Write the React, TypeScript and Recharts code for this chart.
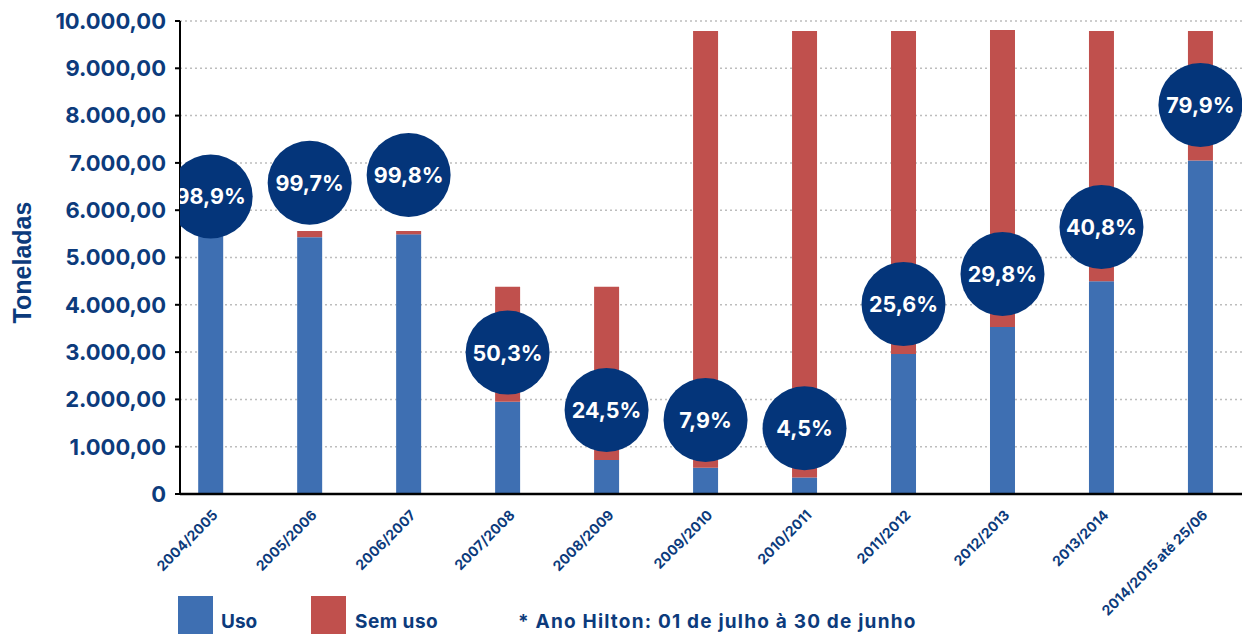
import React from 'react';
import { ComposedChart, Bar, Scatter, XAxis, YAxis, CartesianGrid } from 'recharts';

const categories = [
  '2004/2005',
  '2005/2006',
  '2006/2007',
  '2007/2008',
  '2008/2009',
  '2009/2010',
  '2010/2011',
  '2011/2012',
  '2012/2013',
  '2013/2014',
  '2014/2015 até 25/06',
];
const usoValues = [5540, 5430, 5490, 1950, 720, 556, 350, 2960, 3530, 4500, 7050];
const semUsoValues = [60, 130, 70, 2430, 3660, 9234, 9440, 6830, 6280, 5290, 2740];
const circleValues = [6290, 6580, 6745, 2990, 1775, 1565, 1390, 4015, 4650, 5645, 8225];
const percentLabels = ['98,9%', '99,7%', '99,8%', '50,3%', '24,5%', '7,9%', '4,5%', '25,6%', '29,8%', '40,8%', '79,9%'];
const yTicks = [0, 1000, 2000, 3000, 4000, 5000, 6000, 7000, 8000, 9000, 10000];
const legendNames = ['Uso', 'Sem uso'];
const footnote = '* Ano Hilton: 01 de julho à 30 de junho';
const yAxisTitle = 'Toneladas';

const NAVY = '#0c3b7c';
const CIRCLE = '#04357a';
const BLUE = '#3e6fb2';
const RED = '#c0504d';
const FONT = 'Inter, "DejaVu Sans", sans-serif';

const data = categories.map((name, i) => ({
  x: i,
  name,
  uso: usoValues[i],
  semUso: semUsoValues[i],
  circle: circleValues[i],
  pct: percentLabels[i],
}));

const formatY = (v: number) => {
  if (v === 0) return '0';
  const s = String(Math.round(v));
  const withDots = s.replace(/\B(?=(\d{3})+(?!\d))/g, '.');
  return withDots + ',00';
};

const XTick = (props: any) => {
  const { x, y, payload } = props;
  const label = categories[payload.value] ?? '';
  const ax = x + 8;
  const ay = y + 22;
  return (
    <text
      x={ax}
      y={ay}
      transform={`rotate(-45, ${ax}, ${ay})`}
      textAnchor="end"
      fill={NAVY}
      fontSize={14}
      fontWeight={700}
      fontFamily={FONT}
    >
      {label}
    </text>
  );
};

const CircleShape = (props: any) => {
  const { cx, cy, payload } = props;
  if (cx == null || cy == null) return null;
  return (
    <g>
      <circle cx={cx} cy={cy} r={42} fill={CIRCLE} />
      <text
        x={cx}
        y={cy + 8}
        textAnchor="middle"
        fill="#ffffff"
        fontSize={21.5}
        fontWeight={700}
        fontFamily={FONT}
      >
        {payload.pct}
      </text>
    </g>
  );
};

const YTitle = (props: any) => {
  const vb = props.viewBox || { x: 0, y: 0, width: 0, height: 0 };
  const tx = vb.x + 22;
  const ty = vb.y + vb.height / 2 + 5;
  return (
    <text
      x={tx}
      y={ty}
      transform={`rotate(-90, ${tx}, ${ty})`}
      textAnchor="middle"
      dominantBaseline="central"
      fill={NAVY}
      fontSize={25}
      fontWeight={700}
      fontFamily='"Liberation Sans", Arial, sans-serif'
    >
      {yAxisTitle}
    </text>
  );
};

export default function App() {
  return (
    <div style={{ position: 'absolute', left: 0, top: 0, width: 1242, height: 634, background: '#fff' }}>
      <ComposedChart
        width={1242}
        height={634}
        data={data}
        margin={{ top: 21, right: 0, bottom: 0, left: 0 }}
      >
        <CartesianGrid
          vertical={false}
          stroke="#bdbdbd"
          strokeWidth={1.5}
          strokeDasharray="2 3"
        />
        <XAxis
          type="number"
          dataKey="x"
          domain={[-0.31, 10.42]}
          allowDataOverflow
          ticks={[0, 1, 2, 3, 4, 5, 6, 7, 8, 9, 10]}
          interval={0}
          tick={<XTick />}
          tickLine={false}
          tickSize={0}
          tickMargin={0}
          axisLine={{ stroke: '#000', strokeWidth: 2.5 }}
          height={140}
        />
        <YAxis
          type="number"
          domain={[0, 10000]}
          ticks={yTicks}
          interval={0}
          width={180}
          tickFormatter={formatY}
          tick={{ fill: NAVY, fontSize: 22, fontWeight: 700, fontFamily: FONT }}
          tickLine={{ stroke: '#000', strokeWidth: 2 }}
          tickSize={5}
          tickMargin={9}
          axisLine={{ stroke: '#000', strokeWidth: 2 }}
          label={YTitle}
        />
        <Bar dataKey="uso" stackId="a" fill={BLUE} barSize={25} isAnimationActive={false} />
        <Bar dataKey="semUso" stackId="a" fill={RED} barSize={25} isAnimationActive={false} />
        <Scatter dataKey="circle" shape={<CircleShape />} isAnimationActive={false} />
      </ComposedChart>
      <svg
        width={1242}
        height={634}
        style={{ position: 'absolute', left: 0, top: 0, pointerEvents: 'none' }}
      >
        <rect x={178} y={596} width={35} height={38} fill={BLUE} />
        <text x={221} y={628} fill={NAVY} fontSize={19} fontWeight={700} fontFamily={FONT}>
          {legendNames[0]}
        </text>
        <rect x={311} y={596} width={35} height={38} fill={RED} />
        <text x={355} y={628} fill={NAVY} fontSize={19} fontWeight={700} fontFamily={FONT} letterSpacing={0.5}>
          {legendNames[1]}
        </text>
        <text x={518} y={628} fill={NAVY} fontSize={19} fontWeight={700} fontFamily={FONT} letterSpacing={1.2}>
          {footnote}
        </text>
      </svg>
    </div>
  );
}
